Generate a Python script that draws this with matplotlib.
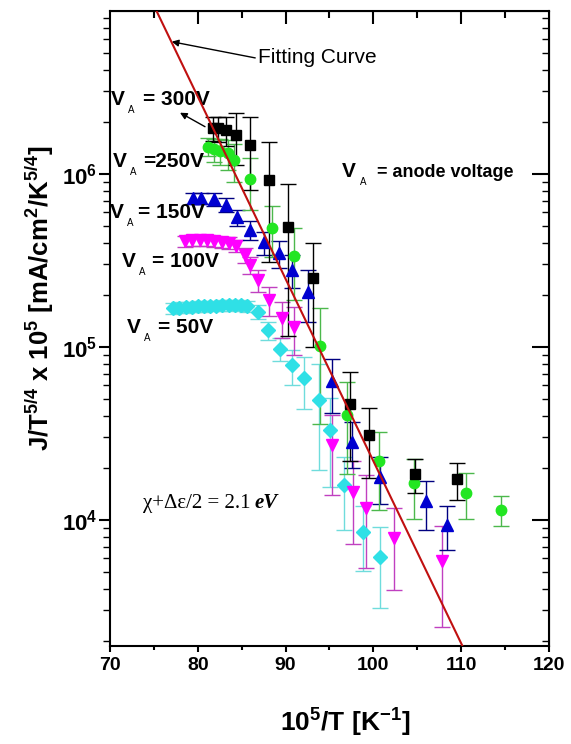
import numpy as np
import matplotlib
matplotlib.use("Agg")
import matplotlib.pyplot as plt
from matplotlib.ticker import FixedLocator, FuncFormatter, LogLocator, NullFormatter

plt.rcParams['font.family'] = ['Liberation Sans', 'DejaVu Sans']
plt.rcParams['mathtext.fontset'] = 'custom'
plt.rcParams['mathtext.bf'] = 'Liberation Sans:bold'
plt.rcParams['mathtext.rm'] = 'Liberation Sans'

# datos (x = 10^5/T, y = J/T^5/4 x 10^5)
black_x = [81.7, 82.3, 83.2, 84.4, 85.9, 88.1, 90.3, 93.1, 97.3, 99.5, 104.7, 109.5]
black_y = [1.84e6, 1.84e6, 1.79e6, 1.69e6, 1.47e6, 9.2e5, 4.95e5, 2.5e5, 4.68e4, 3.1e4, 1.85e4, 1.72e4]
black_err = [2.9e5, 3.0e5, 3.4e5, 5.6e5, 6.6e5, 6.1e5, 3.8e5, 1.5e5, 2.5e4, 1.34e4, 4.1e3, 4.2e3]

green_x = [81.2, 81.8, 82.5, 83.4, 84.1, 85.9, 88.5, 91.0, 93.9, 97.0, 100.6, 104.6, 110.5, 114.5]
green_y = [1.44e6, 1.39e6, 1.36e6, 1.32e6, 1.2e6, 9.3e5, 4.9e5, 3.36e5, 1.02e5, 4.05e4, 2.19e4, 1.63e4, 1.44e4, 1.15e4]
green_err = [1.7e5, 2.1e5, 2.4e5, 2.6e5, 3.0e5, 3.1e5, 1.6e5, 1.5e5, 6.6e4, 2.2e4, 1.05e4, 6.2e3, 4.3e3, 2.3e3]

blue_x = [79.5, 80.4, 81.8, 83.2, 84.5, 85.9, 87.5, 89.2, 90.7, 92.6, 95.3, 97.6, 100.8, 106.0, 108.4]
blue_y = [7.24e5, 7.24e5, 7.15e5, 6.62e5, 5.62e5, 4.74e5, 4.02e5, 3.48e5, 2.79e5, 2.09e5, 6.35e4, 2.84e4, 1.77e4, 1.28e4, 9.4e3]
blue_err = [5e4, 5e4, 6e4, 6e4, 6e4, 6e4, 6e4, 6e4, 6e4, 7e4, 2.2e4, 8.5e3, 5.4e3, 4e3, 2.7e3]

mag_x = [78.5, 79.3, 80.2, 81.0, 81.8, 82.7, 83.6, 84.4, 85.4, 85.9, 86.9, 88.1, 89.6, 90.9,
         95.25, 97.7, 99.2, 102.3, 107.8]
mag_y = [4.1e5, 4.15e5, 4.15e5, 4.15e5, 4.1e5, 4.05e5, 4.0e5, 3.85e5, 3.4e5, 2.98e5, 2.44e5, 1.87e5,
         1.47e5, 1.30e5, 2.72e4, 1.46e4, 1.17e4, 7.84e3, 5.8e3]
mag_err = [3e4, 3e4, 3e4, 3e4, 3e4, 3e4, 3e4, 3e4, 3.5e4, 3.5e4, 3.5e4, 3.5e4, 3.5e4, 4e4,
           1.33e4, 7.3e3, 6.4e3, 3.9e3, 3.4e3]

cyan_x = [77.2, 77.9, 78.6, 79.3, 80.0, 80.7, 81.4, 82.1, 82.8, 83.5, 84.2, 84.9, 85.6,
          86.9, 88.0, 89.4, 90.7, 92.15, 93.8, 95.1, 96.65, 98.85, 100.8]
cyan_y = [1.68e5, 1.69e5, 1.70e5, 1.71e5, 1.72e5, 1.72e5, 1.73e5, 1.73e5, 1.74e5, 1.74e5, 1.75e5, 1.74e5, 1.72e5,
          1.60e5, 1.25e5, 9.8e4, 7.87e4, 6.59e4, 4.94e4, 3.31e4, 1.59e4, 8.55e3, 6.1e3]
cyan_err = [1.2e4] * 13 + [1.4e4, 1.5e4, 1.5e4, 1.8e4, 2.2e4, 3.0e4, 1.75e4, 7.2e3, 3.5e3, 3.0e3]

# recta de ajuste (chi + de/2 = 2.1 eV)
fit_x = [75.3, 110.3]
fit_y = [8.75e6, 1.8e3]

fig = plt.figure(figsize=(5.71, 7.44), dpi=100)
ax = fig.add_axes([110 / 571, 1 - 646 / 744, 439 / 571, 635 / 744])
ax.set_yscale('log')
ax.set_xlim(70, 120)
ax.set_ylim(1.87e3, 8.75e6)

series = [
    (cyan_x, cyan_y, cyan_err, 'D', '#2fe0e6', '#6fdcdc', 7),
    (mag_x, mag_y, mag_err, 'v', '#ff00ff', '#c040c0', 9),
    (blue_x, blue_y, blue_err, '^', '#0000d0', '#000080', 9),
    (green_x, green_y, green_err, 'o', '#22e622', '#4cb84c', 7.5),
    (black_x, black_y, black_err, 's', '#000000', '#000000', 7),
]
for xs, ys, es, mk, col, ecol, ms in series:
    ax.errorbar(xs, ys, yerr=es, fmt=mk, color=col, ecolor=ecol, markersize=ms,
                markeredgecolor=col, elinewidth=1, capsize=6, capthick=1)

ax.plot(fit_x, fit_y, color='#c01010', linewidth=1.5, zorder=5)

# ejes
for s in ax.spines.values():
    s.set_linewidth(1.5)
ax.set_xticks([70, 80, 90, 100, 110, 120])
ax.set_xticks([75, 85, 95, 105, 115], minor=True)
ax.tick_params(axis='x', which='major', direction='out', length=4, width=1.5, labelsize=14, pad=4)
ax.tick_params(axis='x', which='minor', direction='out', length=3, width=1.5)
ax.yaxis.set_major_locator(FixedLocator([1e4, 1e5, 1e6]))
ax.yaxis.set_minor_locator(LogLocator(base=10, subs=np.arange(2, 10)))
ax.yaxis.set_minor_formatter(NullFormatter())
ax.yaxis.set_major_formatter(FuncFormatter(lambda v, p: r'$\mathbf{10^{%d}}$' % round(np.log10(v))))
ax.tick_params(axis='y', which='major', direction='out', length=8, width=1.5, labelsize=16, pad=1)
ax.tick_params(axis='y', which='minor', direction='out', length=5, width=1)
for lab in ax.get_xticklabels():
    lab.set_fontweight('bold')

secx = ax.secondary_xaxis('top')
secx.set_xticks([80, 90, 100, 110])
secx.set_xticks([75, 85, 95, 105, 115], minor=True)
secx.tick_params(which='major', direction='in', length=9, width=1.5, labeltop=False)
secx.tick_params(which='minor', direction='in', length=5, width=1.5)
secy = ax.secondary_yaxis('right')
secy.yaxis.set_major_locator(FixedLocator([1e4, 1e5, 1e6]))
secy.yaxis.set_minor_locator(LogLocator(base=10, subs=np.arange(2, 10)))
secy.tick_params(which='major', direction='in', length=12, width=1.5, labelright=False)
secy.tick_params(which='minor', direction='in', length=5, width=1, labelright=False)

fig.text(40 / 571, 1 - 298 / 744,
         r'J/T$^{\mathbf{5/4}}$ x 10$^{\mathbf{5}}$ [mA/cm$^{\mathbf{2}}$/K$^{\mathbf{5/4}}$]',
         rotation=90, ha='center', va='center', fontsize=18.5, fontweight='bold')
fig.text(345 / 571, 1 - 722 / 744, r'10$^{\mathbf{5}}$/T [K$^{\mathbf{-1}}$]',
         ha='center', va='center', fontsize=19, fontweight='bold')


def px(x, y):
    # pixel de la imagen -> fraccion de ejes
    return ((x - 110) / 439, (646 - y) / 635)


def va_label(x, y, rest, dx_rest, size=15, rest_size=15, dx_a=17):
    pos = px(x, y)
    ax.annotate('V', xy=pos, xycoords='axes fraction', fontsize=size, fontweight='bold',
                va='baseline', ha='left', annotation_clip=False)
    ax.annotate('A', xy=pos, xycoords='axes fraction', xytext=(dx_a * 0.72, -8 * 0.72),
                textcoords='offset points', fontsize=7, va='baseline', ha='left', annotation_clip=False)
    ax.annotate(rest, xy=pos, xycoords='axes fraction', xytext=(dx_rest * 0.72, 0),
                textcoords='offset points', fontsize=rest_size, fontweight='bold',
                va='baseline', ha='left', annotation_clip=False)


va_label(111, 105, '= 300V', 32)
va_label(112.7, 167, '=250V', 30)
va_label(110, 218, '= 150V', 28)
va_label(121.7, 267, '= 100V', 30)
va_label(126.7, 333, '= 50V', 31)
va_label(341.7, 177, '= anode voltage', 35, rest_size=13, dx_a=18)

ax.annotate('Fitting Curve', xy=px(171.7, 41.7), xycoords='axes fraction',
            xytext=px(258, 63), textcoords='axes fraction', fontsize=15,
            va='baseline', ha='left',
            arrowprops=dict(arrowstyle='-|>', color='black', lw=1, shrinkA=0, shrinkB=0,
                            mutation_scale=10, relpos=(0, 0.45)))
ax.annotate('', xy=px(180, 112.7), xycoords='axes fraction', xytext=px(205, 126.7),
            textcoords='axes fraction',
            arrowprops=dict(arrowstyle='-|>', color='black', lw=1, shrinkA=0, shrinkB=0,
                            mutation_scale=10))

chi_pos = px(143, 508)
ax.annotate('χ+Δε/2 = 2.1', xy=chi_pos, xycoords='axes fraction', fontsize=15,
            family='Liberation Serif', va='baseline', ha='left')
ax.annotate('eV', xy=chi_pos, xycoords='axes fraction', xytext=(112 * 0.72, 0),
            textcoords='offset points', fontsize=15, family='Liberation Serif',
            style='italic', fontweight='bold', va='baseline', ha='left')

fig.savefig('out.png', dpi=100)
